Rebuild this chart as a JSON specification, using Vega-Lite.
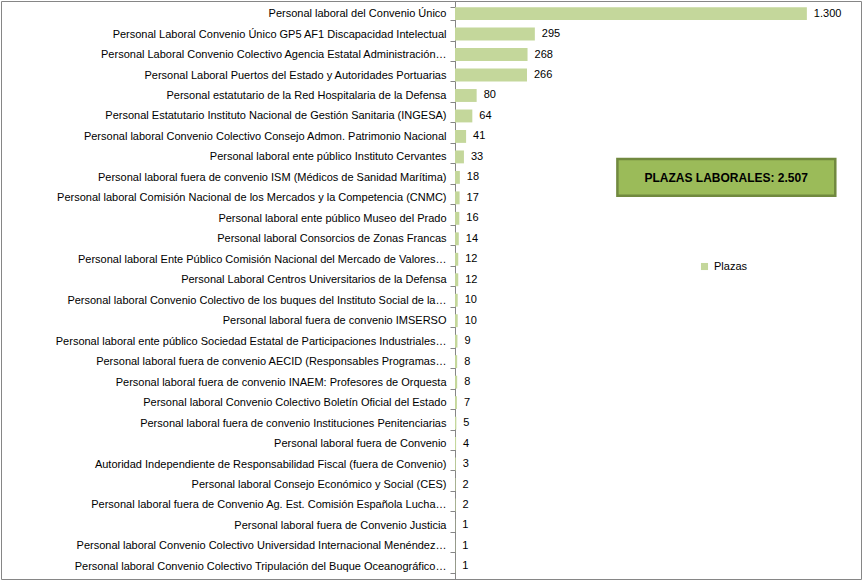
{
  "$schema": "https://vega.github.io/schema/vega-lite/v6.json",
  "width": 860,
  "height": 578,
  "autosize": {"type": "none"},
  "padding": {"left": 1, "top": 1, "right": 1, "bottom": 1},
  "background": "white",
  "config": {
    "view": {"stroke": "#868686", "strokeWidth": 1},
    "font": "Liberation Sans",
    "locale": {
      "number": {"decimal": ",", "thousands": ".", "grouping": [3], "currency": ["", " €"]}
    }
  },
  "data": {
    "values": [
      {"organismo": "Personal laboral del Convenio Único", "plazas": 1300},
      {"organismo": "Personal Laboral Convenio Único GP5 AF1 Discapacidad Intelectual", "plazas": 295},
      {"organismo": "Personal Laboral Convenio Colectivo Agencia Estatal Administración…", "plazas": 268},
      {"organismo": "Personal Laboral Puertos del Estado y Autoridades Portuarias", "plazas": 266},
      {"organismo": "Personal estatutario de la Red Hospitalaria de la Defensa", "plazas": 80},
      {"organismo": "Personal Estatutario  Instituto Nacional de Gestión Sanitaria (INGESA)", "plazas": 64},
      {"organismo": "Personal laboral Convenio Colectivo Consejo Admon. Patrimonio Nacional", "plazas": 41},
      {"organismo": "Personal laboral ente público Instituto Cervantes", "plazas": 33},
      {"organismo": "Personal laboral fuera de convenio ISM (Médicos de Sanidad Marítima)", "plazas": 18},
      {"organismo": "Personal laboral Comisión Nacional de los Mercados y la Competencia (CNMC)", "plazas": 17},
      {"organismo": "Personal laboral ente público Museo del Prado", "plazas": 16},
      {"organismo": "Personal laboral Consorcios de Zonas Francas", "plazas": 14},
      {"organismo": "Personal laboral Ente Público Comisión Nacional del Mercado de Valores…", "plazas": 12},
      {"organismo": "Personal Laboral Centros Universitarios de la Defensa", "plazas": 12},
      {"organismo": "Personal laboral Convenio Colectivo de los buques del Instituto Social de la…", "plazas": 10},
      {"organismo": "Personal laboral fuera de convenio IMSERSO", "plazas": 10},
      {"organismo": "Personal laboral ente público Sociedad Estatal de Participaciones Industriales…", "plazas": 9},
      {"organismo": "Personal laboral fuera de convenio AECID (Responsables Programas…", "plazas": 8},
      {"organismo": "Personal laboral fuera de convenio INAEM: Profesores de Orquesta", "plazas": 8},
      {"organismo": "Personal laboral Convenio Colectivo Boletín Oficial del Estado", "plazas": 7},
      {"organismo": "Personal laboral fuera de convenio  Instituciones Penitenciarias", "plazas": 5},
      {"organismo": "Personal laboral fuera de Convenio", "plazas": 4},
      {"organismo": "Autoridad Independiente de Responsabilidad Fiscal (fuera de Convenio)", "plazas": 3},
      {"organismo": "Personal laboral Consejo Económico y Social (CES)", "plazas": 2},
      {"organismo": "Personal laboral  fuera de Convenio Ag. Est. Comisión Española Lucha…", "plazas": 2},
      {"organismo": "Personal laboral fuera de Convenio Justicia", "plazas": 1},
      {"organismo": "Personal laboral Convenio Colectivo Universidad Internacional Menéndez…", "plazas": 1},
      {"organismo": "Personal laboral Convenio Colectivo Tripulación del Buque Oceanográfico…", "plazas": 1}
    ]
  },
  "encoding": {
    "y": {
      "field": "organismo",
      "type": "nominal",
      "sort": null,
      "scale": {"paddingInner": 0.37, "paddingOuter": 0.3},
      "axis": {
        "title": null,
        "offset": -454,
        "domainColor": "#868686",
        "tickColor": "#868686",
        "tickSize": 5,
        "tickBand": "extent",
        "labelFontSize": 11,
        "labelColor": "#000000",
        "labelPadding": 4,
        "labelLimit": 450
      }
    }
  },
  "layer": [
    {
      "mark": {"type": "bar"},
      "encoding": {
        "x": {
          "field": "plazas",
          "type": "quantitative",
          "scale": {"domain": [0, 1500], "range": [454, 860], "nice": false},
          "axis": null
        },
        "color": {
          "datum": "Plazas",
          "scale": {"domain": ["Plazas"], "range": ["#c4d79b"]},
          "legend": {
            "orient": "none",
            "legendX": 698,
            "legendY": 260,
            "title": null,
            "symbolType": "square",
            "symbolSize": 50,
            "labelFontSize": 11,
            "labelColor": "#000000"
          }
        }
      }
    },
    {
      "mark": {"type": "text", "align": "left", "dx": 7, "fontSize": 11, "color": "#000000"},
      "encoding": {
        "x": {"field": "plazas", "type": "quantitative"},
        "text": {"field": "plazas", "type": "quantitative", "format": ",d"}
      }
    },
    {
      "data": {"values": [{"etiqueta": "PLAZAS LABORALES: 2.507"}]},
      "layer": [
        {
          "mark": {"type": "bar", "fill": "#9bbb59", "stroke": "#71893f", "strokeWidth": 2.5, "height": {"band": 2.85}},
          "encoding": {
            "x": {"datum": 600},
            "x2": {"datum": 1405},
            "y": {"datum": "Personal laboral fuera de convenio ISM (Médicos de Sanidad Marítima)"}
          }
        },
        {
          "mark": {"type": "text", "fontWeight": "bold", "fontSize": 12, "color": "#000000", "dy": 1},
          "encoding": {
            "x": {"datum": 1002},
            "y": {"datum": "Personal laboral fuera de convenio ISM (Médicos de Sanidad Marítima)"},
            "text": {"field": "etiqueta", "type": "nominal"}
          }
        }
      ]
    }
  ]
}
